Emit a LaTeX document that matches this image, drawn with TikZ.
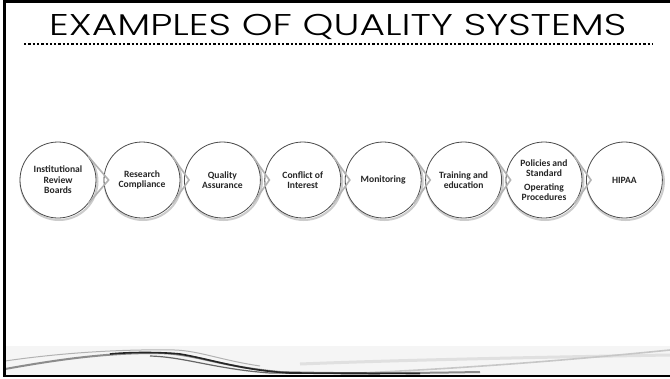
\documentclass[tikz,border=0pt]{standalone}
\usepackage{fontspec}
\setmainfont{Carlito}
\newfontfamily\titlefont{Poppins Light}
\usetikzlibrary{calc}

\tikzset{
  stage/.style={circle, draw=black!70, line width=0.8pt, fill=white, minimum size=76pt,
    inner sep=0pt, align=center, font=\fontsize{9.6}{10.5}\selectfont\bfseries, text=black!85},
  halo/.style={circle, draw=black!20, line width=2pt, minimum size=77pt, inner sep=0pt},
  notch/.style={draw=black!30, line width=1.6pt, line join=miter},
}

\begin{document}
\begin{tikzpicture}[x=1pt,y=-1pt]
  \useasboundingbox (0,0) rectangle (670,378);
  \fill[white] (0,0) rectangle (670,378);

  % swoosh along the bottom
  \fill[black!4] (5,346) rectangle (670,374.5);
  \draw[black!12, line width=3pt] (300,364) .. controls (400,360) and (550,357) .. (670,355);
  \draw[black!22, line width=1.6pt] (360,373) .. controls (470,368) and (570,360) .. (670,350);
  \draw[black!30, line width=1pt] (5,361) .. controls (60,353) and (120,349) .. (175,350) .. controls (200,351) and (220,360) .. (260,366);
  \draw[black!45, line width=2pt] (5,369) .. controls (50,361) and (100,353) .. (155,353) .. controls (195,353) and (215,366) .. (280,372) .. controls (350,374) and (420,373) .. (480,372);
  \draw[black!60, line width=1.2pt] (150,356) .. controls (185,357) and (215,369) .. (270,373) -- (380,374);
  \draw[black!85, line width=1.6pt] (110,354) .. controls (130,352) and (160,352) .. (180,354) .. controls (210,359) and (240,370) .. (290,373) -- (420,373.5);

  % frame
  \draw[line width=2.5pt] (670,1.5) -- (4.5,1.5) -- (4.5,376) -- (670,376);

  % title
  \node[anchor=base west, inner sep=0pt, font=\titlefont\fontsize{30}{30}\selectfont] (title) at (49,35)
    {\scalebox{1.306}[1]{EXAMPLES OF QUALITY SYSTEMS}};
  \draw[line width=2.3pt, dash pattern=on 2.3pt off 2pt] (24,44) -- (653,44);

  % process circles
  \foreach \i/\x/\txt in {1/58/{Institutional\\Review\\Boards}, 2/142/{Research\\Compliance},
      3/222.4/{Quality\\Assurance}, 4/302.8/{Conflict of\\Interest}, 5/383.2/Monitoring,
      6/463.6/{Training and\\education}, 7/544/{Policies and\\Standard\\[3pt]Operating\\Procedures},
      8/624.4/HIPAA} {
    \node[halo] at (\x+1,181.5) {};
    \node[stage] (c\i) at (\x,180) {\txt};
  }

  % chevrons between the circles
  \foreach \i [count=\j from 2] in {1,...,7} {
    \coordinate (tip\i) at ($(c\j.west)+(5,0)$);
    \draw[notch] (c\i.38) -- (tip\i) -- (c\i.-38);
  }
\end{tikzpicture}
\end{document}
